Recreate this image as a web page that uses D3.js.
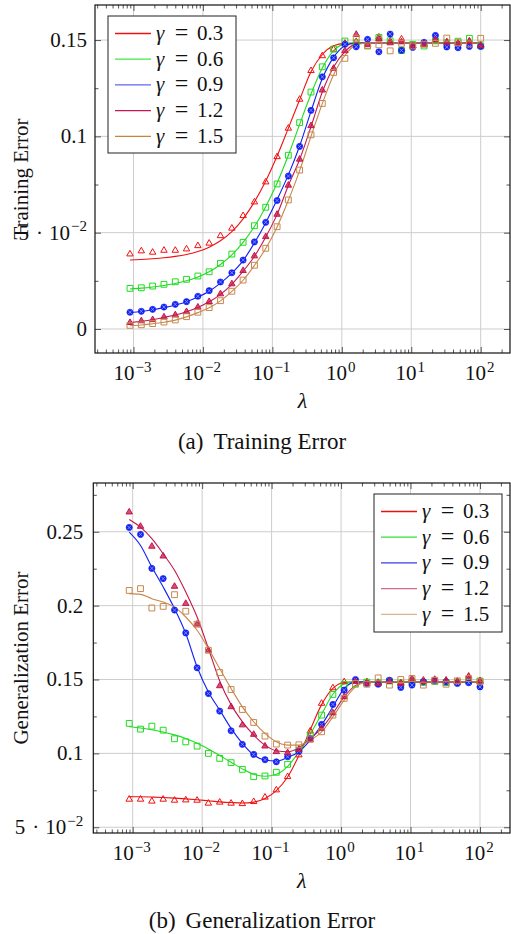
<!DOCTYPE html>
<html>
<head>
<meta charset="utf-8">
<script src="https://cdn.jsdelivr.net/npm/d3@7"></script>
<style>
  body { margin: 0; background: #fff; }
  svg { display: block; }
  text { font-family: "Liberation Serif", "Times New Roman", serif; fill: #111; }
</style>
</head>
<body>
<svg id="chart" width="511" height="934"></svg>
<script>
// regularisation values (x) shared by both panels
const lambdaVals = [0.000891, 0.001297, 0.001888, 0.002748, 0.004, 0.00581, 0.00846, 0.0123,
  0.0179, 0.0261, 0.0379, 0.0552, 0.0803, 0.117, 0.170, 0.247, 0.360, 0.524, 0.762, 1.109,
  1.614, 2.35, 3.42, 4.97, 7.24, 10.5, 15.3, 22.3, 32.5, 47.2, 68.7, 100];

const gammaLabels = ["0.3", "0.6", "0.9", "1.2", "1.5"];
const xTickExps = [-3, -2, -1, 0, 1, 2];
const trainYTicks = [0, 0.05, 0.1, 0.15];
const genYTicks = [0.05, 0.1, 0.15, 0.2, 0.25];

// (a) training error : markers
const trainPts03 = [0.0389, 0.0405, 0.0398, 0.0408, 0.0408, 0.0415, 0.0432, 0.0445, 0.0484, 0.0523, 0.0588, 0.0659, 0.0763, 0.0894, 0.1042, 0.1192, 0.1341, 0.1418, 0.1452, 0.1483,
  0.1492, 0.1480, 0.1515, 0.1495, 0.1505, 0.1472, 0.1478, 0.1510, 0.1490, 0.1485, 0.1495, 0.1475];
const trainPts06 = [0.0211, 0.0214, 0.0223, 0.0232, 0.0245, 0.0258, 0.0275, 0.0297, 0.0341, 0.0389, 0.0450, 0.0536, 0.0632, 0.0753, 0.0902, 0.1071, 0.1230, 0.1361, 0.1453, 0.1495,
  0.1486, 0.1470, 0.1514, 0.1496, 0.1446, 0.1478, 0.1469, 0.1496, 0.1486, 0.1494, 0.1509, 0.1470];
const trainPts09 = [0.0087, 0.0092, 0.0102, 0.0114, 0.0128, 0.0142, 0.0170, 0.0199, 0.0244, 0.0292, 0.0358, 0.0452, 0.0554, 0.0667, 0.0794, 0.0948, 0.1135, 0.1309, 0.1408, 0.1478,
  0.1465, 0.1504, 0.1439, 0.1531, 0.1446, 0.1462, 0.1488, 0.1524, 0.1464, 0.1460, 0.1467, 0.1467];
const trainPts12 = [0.0033, 0.0042, 0.0048, 0.0062, 0.0073, 0.0090, 0.0113, 0.0142, 0.0182, 0.0234, 0.0303, 0.0379, 0.0479, 0.0595, 0.0746, 0.0881, 0.1055, 0.1240, 0.1353, 0.1444,
  0.1529, 0.1475, 0.1505, 0.1485, 0.1490, 0.1470, 0.1478, 0.1502, 0.1488, 0.1482, 0.1492, 0.1470];
const trainPts15 = [0.0019, 0.0022, 0.0028, 0.0036, 0.0047, 0.0064, 0.0087, 0.0111, 0.0147, 0.0196, 0.0254, 0.0331, 0.0419, 0.0531, 0.0670, 0.0825, 0.1008, 0.1171, 0.1332, 0.1405,
  0.1509, 0.1470, 0.1475, 0.1444, 0.1483, 0.1469, 0.1478, 0.1483, 0.1510, 0.1486, 0.1480, 0.1509];

// (a) training error : fitted curves
const trainFit03 = [0.0358, 0.0361, 0.0365, 0.0370, 0.0377, 0.0387, 0.0402, 0.0425, 0.0458, 0.0505, 0.0572, 0.0660, 0.0768, 0.0898, 0.1043, 0.1190, 0.1335, 0.1425, 0.1470, 0.1483,
  0.1485, 0.1485, 0.1485, 0.1485, 0.1485, 0.1485, 0.1485, 0.1485, 0.1485, 0.1485, 0.1485, 0.1485];
const trainFit06 = [0.0208, 0.0212, 0.0218, 0.0226, 0.0236, 0.0250, 0.0270, 0.0297, 0.0335, 0.0385, 0.0450, 0.0532, 0.0635, 0.0758, 0.0902, 0.1062, 0.1220, 0.1355, 0.1445, 0.1480,
  0.1485, 0.1485, 0.1485, 0.1485, 0.1485, 0.1485, 0.1485, 0.1485, 0.1485, 0.1485, 0.1485, 0.1485];
const trainFit09 = [0.0085, 0.0091, 0.0100, 0.0111, 0.0125, 0.0142, 0.0166, 0.0196, 0.0238, 0.0290, 0.0355, 0.0447, 0.0552, 0.0672, 0.0800, 0.0950, 0.1130, 0.1300, 0.1410, 0.1470,
  0.1484, 0.1485, 0.1485, 0.1485, 0.1485, 0.1485, 0.1485, 0.1485, 0.1485, 0.1485, 0.1485, 0.1485];
const trainFit12 = [0.0033, 0.0040, 0.0048, 0.0060, 0.0073, 0.0090, 0.0112, 0.0141, 0.0180, 0.0232, 0.0300, 0.0378, 0.0478, 0.0595, 0.0745, 0.0880, 0.1050, 0.1230, 0.1360, 0.1440,
  0.1480, 0.1485, 0.1485, 0.1485, 0.1485, 0.1485, 0.1485, 0.1485, 0.1485, 0.1485, 0.1485, 0.1485];
const trainFit15 = [0.0017, 0.0021, 0.0027, 0.0035, 0.0046, 0.0063, 0.0085, 0.0110, 0.0146, 0.0195, 0.0253, 0.0330, 0.0418, 0.0530, 0.0668, 0.0822, 0.1000, 0.1170, 0.1320, 0.1420,
  0.1475, 0.1485, 0.1485, 0.1485, 0.1485, 0.1485, 0.1485, 0.1485, 0.1485, 0.1485, 0.1485, 0.1485];

// (b) generalization error : markers
const genPts03 = [0.0689, 0.0689, 0.0676, 0.0689, 0.0682, 0.0684, 0.0682, 0.0662, 0.0669, 0.0662, 0.0659, 0.0673, 0.0703, 0.0752, 0.0842, 0.0989, 0.1151, 0.1338, 0.1443, 0.1484,
  0.1490, 0.1485, 0.1480, 0.1492, 0.1478, 0.1488, 0.1495, 0.1483, 0.1490, 0.1487, 0.1500, 0.1486];
const genPts06 = [0.1203, 0.1164, 0.1184, 0.1157, 0.1099, 0.1078, 0.1049, 0.1000, 0.0966, 0.0937, 0.0892, 0.0842, 0.0847, 0.0872, 0.0926, 0.1022, 0.1124, 0.1259, 0.1399, 0.1466,
  0.1468, 0.1482, 0.1478, 0.1490, 0.1476, 0.1485, 0.1480, 0.1488, 0.1479, 0.1483, 0.1488, 0.1490];
const genPts09 = [0.2529, 0.2482, 0.2252, 0.2183, 0.1970, 0.1815, 0.1579, 0.1405, 0.1286, 0.1153, 0.1061, 0.0993, 0.0957, 0.0943, 0.0977, 0.1015, 0.1101, 0.1196, 0.1331, 0.1428,
  0.1500, 0.1473, 0.1468, 0.1495, 0.1446, 0.1462, 0.1485, 0.1491, 0.1484, 0.1473, 0.1478, 0.1450];
const genPts12 = [0.2633, 0.2536, 0.2401, 0.2335, 0.2130, 0.2014, 0.1874, 0.1698, 0.1457, 0.1315, 0.1192, 0.1128, 0.1049, 0.1011, 0.1004, 0.1027, 0.1090, 0.1169, 0.1274, 0.1383,
  0.1486, 0.1473, 0.1473, 0.1486, 0.1473, 0.1505, 0.1486, 0.1500, 0.1495, 0.1486, 0.1522, 0.1491];
const genPts15 = [0.2103, 0.2115, 0.1984, 0.1995, 0.2074, 0.1962, 0.1874, 0.1698, 0.1547, 0.1432, 0.1297, 0.1209, 0.1117, 0.1063, 0.1056, 0.1058, 0.1098, 0.1146, 0.1259, 0.1372,
  0.1473, 0.1468, 0.1511, 0.1462, 0.1500, 0.1507, 0.1462, 0.1495, 0.1468, 0.1491, 0.1507, 0.1485];

// (b) generalization error : fitted curves
const genFit03 = [0.0707, 0.0706, 0.0704, 0.0701, 0.0697, 0.0692, 0.0686, 0.0679, 0.0672, 0.0667, 0.0664, 0.0670, 0.0695, 0.0748, 0.0840, 0.0985, 0.1160, 0.1330, 0.1440, 0.1480,
  0.1484, 0.1484, 0.1484, 0.1484, 0.1484, 0.1484, 0.1484, 0.1484, 0.1484, 0.1484, 0.1484, 0.1484];
const genFit06 = [0.1180, 0.1172, 0.1160, 0.1145, 0.1125, 0.1100, 0.1068, 0.1030, 0.0985, 0.0940, 0.0895, 0.0858, 0.0845, 0.0858, 0.0912, 0.1010, 0.1130, 0.1265, 0.1400, 0.1470,
  0.1484, 0.1484, 0.1484, 0.1484, 0.1484, 0.1484, 0.1484, 0.1484, 0.1484, 0.1484, 0.1484, 0.1484];
const genFit09 = [0.2497, 0.2407, 0.2261, 0.2126, 0.1980, 0.1811, 0.1585, 0.1416, 0.1293, 0.1169, 0.1068, 0.0989, 0.0955, 0.0948, 0.0973, 0.1011, 0.1090, 0.1191, 0.1315, 0.1439,
  0.1482, 0.1484, 0.1484, 0.1484, 0.1484, 0.1484, 0.1484, 0.1484, 0.1484, 0.1484, 0.1484, 0.1484];
const genFit12 = [0.2583, 0.2531, 0.2453, 0.2351, 0.2239, 0.2092, 0.1923, 0.1710, 0.1490, 0.1330, 0.1215, 0.1124, 0.1056, 0.1018, 0.1011, 0.1038, 0.1101, 0.1169, 0.1270, 0.1382,
  0.1460, 0.1484, 0.1484, 0.1484, 0.1484, 0.1484, 0.1484, 0.1484, 0.1484, 0.1484, 0.1484, 0.1484];
const genFit15 = [0.2081, 0.2076, 0.2047, 0.2024, 0.1990, 0.1923, 0.1833, 0.1709, 0.1574, 0.1439, 0.1315, 0.1214, 0.1135, 0.1078, 0.1056, 0.1056, 0.1090, 0.1146, 0.1247, 0.1360,
  0.1450, 0.1482, 0.1484, 0.1484, 0.1484, 0.1484, 0.1484, 0.1484, 0.1484, 0.1484, 0.1484, 0.1484];

// look of each gamma series
const styles = [
  { color: "#f01010", marker: "tri" },
  { color: "#1fdc1f", marker: "square" },
  { color: "#1020f5", marker: "otimes" },
  { color: "#c4174c", marker: "trifill" },
  { color: "#c8874c", marker: "square" }
];

const svg = d3.select("#chart");

function drawMarker(g, type, color, px, py) {
  if (type === "tri") {
    g.append("path").attr("d", d3.symbol(d3.symbolTriangle, 18)())
      .attr("transform", `translate(${px},${py})`)
      .attr("fill", "none").attr("stroke", color).attr("stroke-width", 1);
  } else if (type === "trifill") {
    g.append("path").attr("d", d3.symbol(d3.symbolTriangle, 18)())
      .attr("transform", `translate(${px},${py})`)
      .attr("fill", color).attr("fill-opacity", 0.75).attr("stroke", color).attr("stroke-width", 1);
  } else if (type === "square") {
    g.append("path").attr("d", d3.symbol(d3.symbolSquare, 34)())
      .attr("transform", `translate(${px},${py})`)
      .attr("fill", "none").attr("stroke", color).attr("stroke-width", 1);
  } else {
    g.append("circle").attr("cx", px).attr("cy", py).attr("r", 3.1)
      .attr("fill", color).attr("stroke", color).attr("stroke-width", 0.6);
    g.append("path").attr("d", `M${px - 1.8},${py - 1.8}L${px + 1.8},${py + 1.8}M${px - 1.8},${py + 1.8}L${px + 1.8},${py - 1.8}`)
      .attr("stroke", "#9aa0ff").attr("stroke-width", 0.8);
  }
}

function writeTenPow(t, exp) {
  t.append("tspan").text("10");
  t.append("tspan").attr("dy", -8.5).attr("dx", 1).attr("font-size", 15)
    .text(exp < 0 ? "\u2212" + (-exp) : String(exp));
}

function drawPanel(o) {
  const x = d3.scaleLog().domain(o.xDomain).range([o.left, o.right]);
  const y = d3.scaleLinear().domain(o.yDomain).range([o.bottom, o.top]);
  const g = svg.append("g");
  const decades = xTickExps.map(e => Math.pow(10, e));

  // minor tick values 2..9 per decade inside the domain
  const minorX = [];
  for (let e = -4; e <= 2; e++) for (let m = 2; m <= 9; m++) {
    const v = m * Math.pow(10, e);
    if (v > o.xDomain[0] && v < o.xDomain[1]) minorX.push(v);
  }

  // grid
  g.append("g").selectAll("line").data(decades).join("line")
    .attr("x1", d => x(d)).attr("x2", d => x(d)).attr("y1", o.top).attr("y2", o.bottom)
    .attr("stroke", "#cdcdcd").attr("stroke-width", 1);
  g.append("g").selectAll("line").data(o.yTicks).join("line")
    .attr("x1", o.left).attr("x2", o.right).attr("y1", d => y(d)).attr("y2", d => y(d))
    .attr("stroke", "#cdcdcd").attr("stroke-width", 1);

  // axes: ticks pointing inwards
  const axes = [
    [d3.axisBottom(x).tickValues(decades).tickSize(-6), `translate(0,${o.bottom})`],
    [d3.axisBottom(x).tickValues(minorX).tickSize(-3.5), `translate(0,${o.bottom})`],
    [d3.axisTop(x).tickValues(decades).tickSize(-6), `translate(0,${o.top})`],
    [d3.axisTop(x).tickValues(minorX).tickSize(-3.5), `translate(0,${o.top})`],
    [d3.axisLeft(y).tickValues(o.yTicks).tickSize(-6), `translate(${o.left},0)`],
    [d3.axisLeft(y).tickValues(o.yMinor).tickSize(-3.5), `translate(${o.left},0)`],
    [d3.axisRight(y).tickValues(o.yTicks).tickSize(-6), `translate(${o.right},0)`],
    [d3.axisRight(y).tickValues(o.yMinor).tickSize(-3.5), `translate(${o.right},0)`]
  ];
  axes.forEach(([ax, tr]) => {
    const a = g.append("g").attr("transform", tr).call(ax.tickFormat(() => ""));
    a.select(".domain").remove();
    a.selectAll(".tick line").attr("stroke", "#555");
    a.selectAll(".tick text").remove();
  });

  // x tick labels
  g.append("g").selectAll("text").data(xTickExps).join("text")
    .attr("x", d => x(Math.pow(10, d)) - 1)
    .attr("y", o.bottom + 27)
    .attr("text-anchor", "middle").attr("font-size", 21)
    .each(function (d) { writeTenPow(d3.select(this), d); });

  // y tick labels
  g.append("g").selectAll("text").data(o.yTicks).join("text")
    .attr("x", o.left - o.labelGap)
    .attr("y", d => y(d) + 7)
    .attr("text-anchor", "end").attr("font-size", 21)
    .each(function (d) {
      const t = d3.select(this);
      if (d === 0.05) {
        t.append("tspan").text("5");
        t.append("tspan").attr("dx", 7).text("\u00b7");
        t.append("tspan").attr("dx", 6).text("10");
        t.append("tspan").attr("dy", -8.5).attr("dx", 1).attr("font-size", 15).text("\u22122");
      } else {
        t.text(String(d));
      }
    });

  // frame
  g.append("rect").attr("x", o.left).attr("y", o.top)
    .attr("width", o.right - o.left).attr("height", o.bottom - o.top)
    .attr("fill", "none").attr("stroke", "#111").attr("stroke-width", 1.2);

  // curves and markers
  const line = d3.line().x(d => x(d[0])).y(d => y(d[1])).curve(d3.curveMonotoneX);
  o.fits.forEach((vals, i) => {
    g.append("path").datum(lambdaVals.map((l, k) => [l, vals[k]]))
      .attr("d", line).attr("fill", "none")
      .attr("stroke", styles[i].color).attr("stroke-width", 1.1);
  });
  o.points.forEach((vals, i) => {
    const mg = g.append("g");
    lambdaVals.forEach((l, k) => drawMarker(mg, styles[i].marker, styles[i].color, x(l), y(vals[k])));
  });

  // axis titles
  g.append("text").attr("x", (o.left + o.right) / 2).attr("y", o.bottom + 55)
    .attr("text-anchor", "middle").attr("font-size", 22).attr("font-style", "italic").text("\u03bb");
  g.append("text")
    .attr("transform", `translate(28,${(o.top + o.bottom) / 2}) rotate(-90)`)
    .attr("text-anchor", "middle").attr("font-size", 21).text(o.yTitle);
  const cap = g.append("text").attr("x", 262).attr("y", o.captionY)
    .attr("text-anchor", "middle").attr("font-size", 23);
  cap.append("tspan").text(o.tag);
  cap.append("tspan").attr("dx", 10).text(o.caption);

  // legend
  const lg = g.append("g");
  lg.append("rect").attr("x", o.legend.x).attr("y", o.legend.y)
    .attr("width", 128).attr("height", o.legend.h)
    .attr("fill", "#fff").attr("stroke", "#222").attr("stroke-width", 1);
  gammaLabels.forEach((lab, i) => {
    const cy = o.legend.y + 17.5 + i * 25.7;
    const tx = o.legend.x + 48;
    lg.append("line").attr("x1", o.legend.x + 7).attr("x2", o.legend.x + 43)
      .attr("y1", cy).attr("y2", cy)
      .attr("stroke", o.legend.colors[i]).attr("stroke-width", 1.3);
    lg.append("text").attr("x", tx).attr("y", cy + 6.5).attr("font-size", 21)
      .attr("font-style", "italic").text("\u03b3");
    lg.append("text").attr("x", tx + 25.5).attr("y", cy + 6.5).attr("font-size", 24)
      .attr("text-anchor", "middle").text("=");
    lg.append("text").attr("x", tx + 41).attr("y", cy + 6.5).attr("font-size", 21).text(lab);
  });
}

drawPanel({
  left: 95, right: 510, top: 5, bottom: 353, labelGap: 8,
  xDomain: [Math.pow(10, -3.554), Math.pow(10, 2.422)],
  yDomain: [-0.01246, 0.1682],
  yTicks: trainYTicks, yMinor: [0.025, 0.075, 0.125],
  fits: [trainFit03, trainFit06, trainFit09, trainFit12, trainFit15],
  points: [trainPts03, trainPts06, trainPts09, trainPts12, trainPts15],
  yTitle: "Training Error", tag: "(a)", caption: "Training Error", captionY: 449,
  legend: { x: 108, y: 16, h: 137, colors: ["#f01010", "#44e844", "#6464f2", "#c8174d", "#c8843e"] }
});

drawPanel({
  left: 93.3, right: 510, top: 483, bottom: 833, labelGap: 10,
  xDomain: [Math.pow(10, -3.567), Math.pow(10, 2.432)],
  yDomain: [0.0461, 0.2830],
  yTicks: genYTicks, yMinor: [0.075, 0.125, 0.175, 0.225, 0.275],
  fits: [genFit03, genFit06, genFit09, genFit12, genFit15],
  points: [genPts03, genPts06, genPts09, genPts12, genPts15],
  yTitle: "Generalization Error", tag: "(b)", caption: "Generalization Error", captionY: 928,
  legend: { x: 374, y: 494, h: 138, colors: ["#e81010", "#30e030", "#3a3ae8", "#d4688a", "#dbb48e"] }
});
</script>
</body>
</html>
